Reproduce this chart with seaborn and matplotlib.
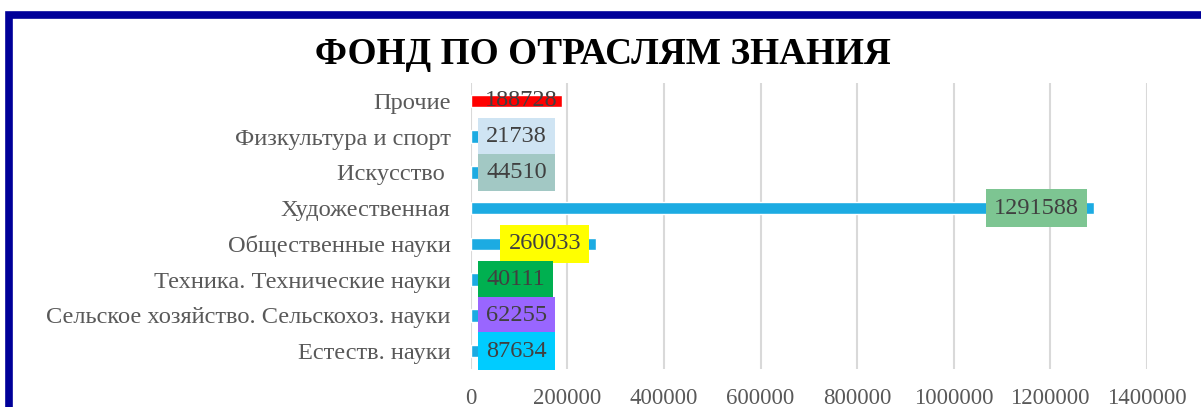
# Фонд по отраслям знания - горизонтальная диаграмма
import matplotlib
matplotlib.use('Agg')
import matplotlib.pyplot as plt
import matplotlib.patches as mpatches
import seaborn as sns

# данные
categories = ['Прочие', 'Физкультура и спорт', 'Искусство ', 'Художественная',
              'Общественные науки', 'Техника. Технические науки',
              'Сельское хозяйство. Сельскохоз. науки', 'Естеств. науки']
values = [188728, 21738, 44510, 1291588, 260033, 40111, 62255, 87634]
bar_colors = ['#FF0000', '#1CABE2', '#1CABE2', '#1CABE2', '#1CABE2', '#1CABE2', '#1CABE2', '#1CABE2']
label_colors = [None, '#CFE4F3', '#A2C8C4', '#7DC592', '#FFFF00', '#00B050', '#9966FF', '#00CCFF']
x_ticks = [0, 200000, 400000, 600000, 800000, 1000000, 1200000, 1400000]

sns.set_style("white")
plt.rcParams['font.family'] = ['Liberation Serif', 'DejaVu Serif']

fig = plt.figure(figsize=(12.01, 4.07), dpi=100)
ax = fig.add_axes([0.392, 0.0934, 0.5629, 0.7027])

sns.barplot(x=values, y=categories, hue=categories, palette=bar_colors,
            orient='h', width=0.35, legend=False, ax=ax, saturation=1)

ax.set_xlim(0, 1400000)
ax.set_xticks(x_ticks)
ax.set_xticklabels([str(t) for t in x_ticks])
ax.grid(axis='x', color='#D9D9D9', linewidth=1.5)
ax.set_axisbelow(True)
for s in ax.spines.values():
    s.set_visible(False)
ax.tick_params(axis='y', length=0, pad=14.5, labelsize=17.6, labelcolor='#595959')
ax.tick_params(axis='x', length=0, pad=14, labelsize=16.5, labelcolor='#595959')
ax.set_xlabel('')
ax.set_ylabel('')

# подписи значений
fs = 17.5
pad = 0.34
pad_px = pad * fs * 100 / 72
for i, (v, c) in enumerate(zip(values, label_colors)):
    bbox = None
    off = 4
    if c is not None:
        bbox = dict(boxstyle=f'square,pad={pad}', facecolor=c, edgecolor='none')
        off = 7 + pad_px
    if v > 150000:
        ax.annotate(str(v), xy=(v, i), xytext=(-off, 0), textcoords='offset pixels',
                    ha='right', va='center', fontsize=fs, color='#404040', bbox=bbox)
    else:
        ax.annotate(str(v), xy=(0, i), xytext=(7 + pad_px, 0), textcoords='offset pixels',
                    ha='left', va='center', fontsize=fs, color='#404040', bbox=bbox)

fig.text(0.502, 1 - 54 / 407, 'ФОНД ПО ОТРАСЛЯМ ЗНАНИЯ', ha='center', va='center',
         fontsize=26.8, fontweight='bold', color='black')

# рамка
frame = mpatches.Rectangle((8.5 / 1201, -0.1), 1.2, 1 - 15.5 / 407 + 0.1,
                           transform=fig.transFigure, fill=False,
                           edgecolor='#000099', linewidth=5.5)
fig.patches.append(frame)

fig.savefig('out.png', dpi=100)
